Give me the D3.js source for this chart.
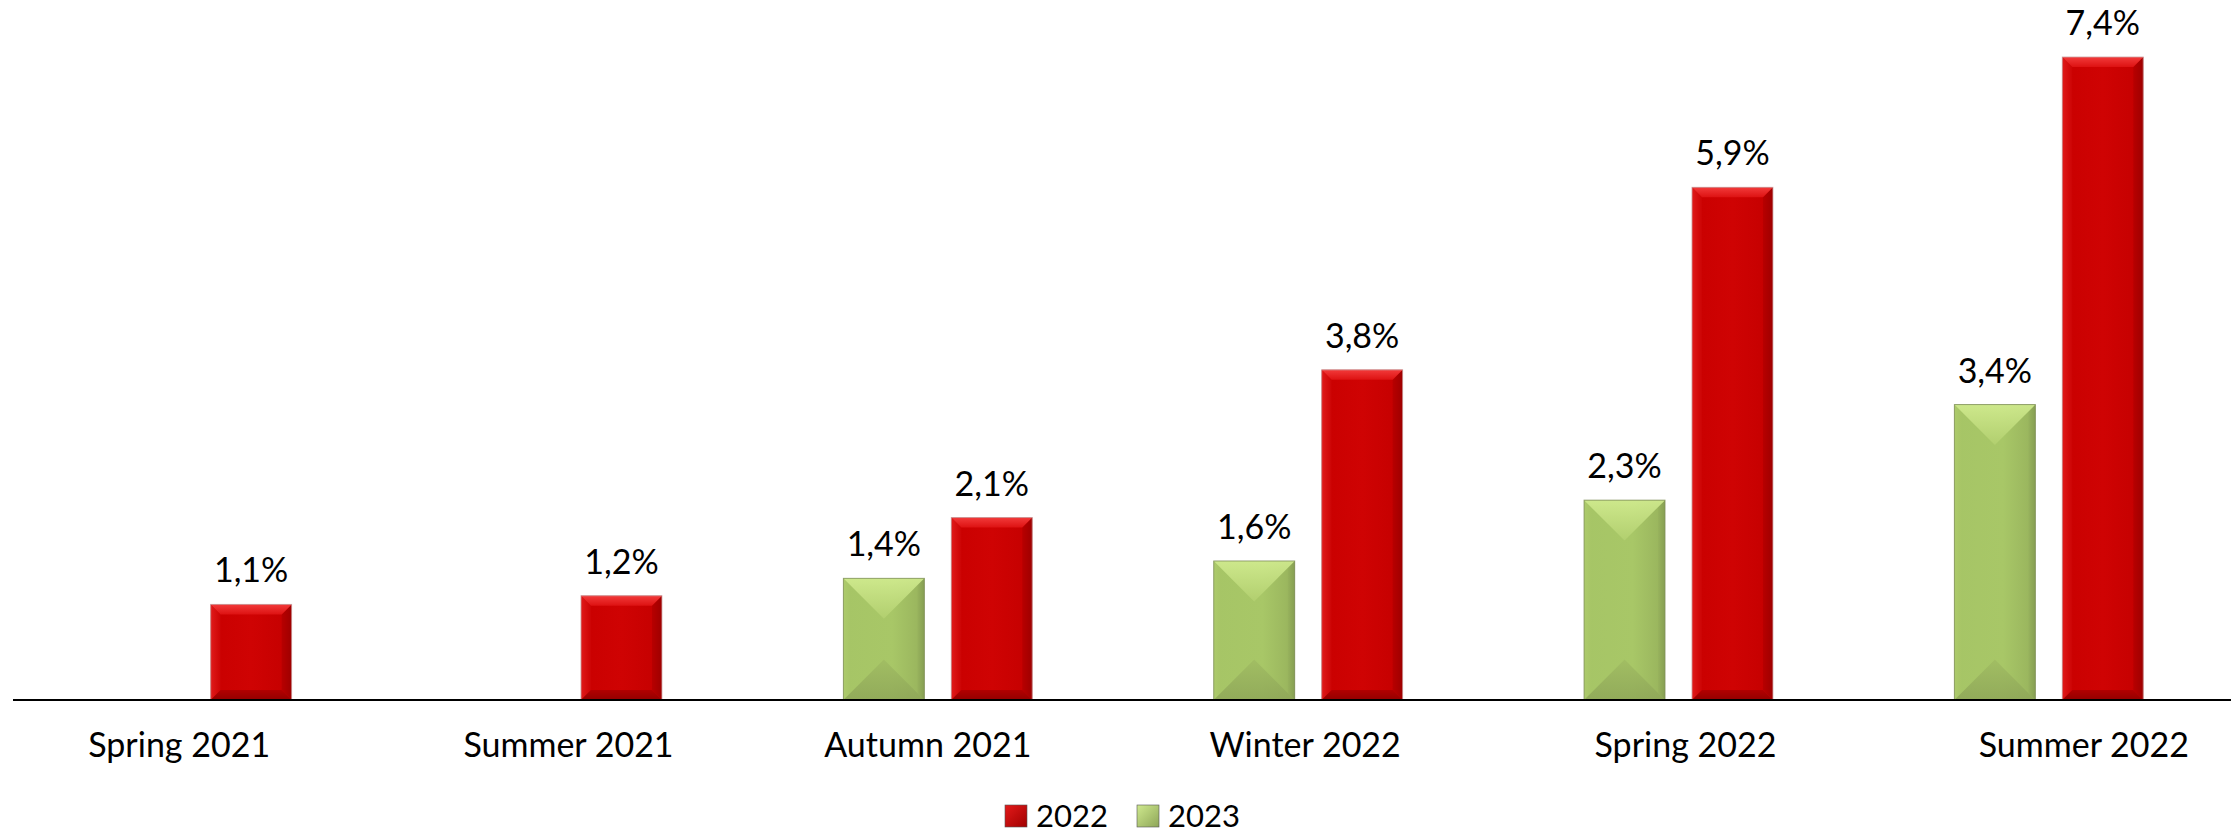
<!DOCTYPE html>
<html>
<head>
<meta charset="utf-8">
<script src="https://cdn.jsdelivr.net/npm/d3@7"></script>
<style>
  html, body { margin: 0; padding: 0; background: #ffffff; }
  svg { display: block; }
  text { font-family: Lato, "Open Sans", sans-serif; fill: #000; }
</style>
</head>
<body>
<svg id="chart" width="2239" height="836"></svg>
<script>
// ---- data ----
const categories = ["Spring 2021", "Summer 2021", "Autumn 2021", "Winter 2022", "Spring 2022", "Summer 2022"];
const seriesNames = ["2023", "2022"];          // drawing order within each group (left, right)
const values2023 = [null, null, 1.4, 1.6, 2.3, 3.4];
const values2022 = [1.1, 1.2, 2.1, 3.8, 5.9, 7.4];
const legendOrder = ["2022", "2023"];

// ---- layout / style ----
const W = 2239, H = 836;
const axisY = 700, topY = 57;
const labelNudge = [-18, 1, -10, -3, 7, 35];   // horizontal nudges of category labels

const svg = d3.select("#chart");
const fmt = v => d3.format(".1f")(v).replace(".", ",") + "%";

const rows = categories.map((c, i) => ({ cat: c, i, "2023": values2023[i], "2022": values2022[i] }));

const x0 = d3.scaleBand().domain(categories).range([12, 2234]).paddingInner(0).paddingOuter(0);
const bw = x0.bandwidth();
const x1 = d3.scaleBand().domain(seriesNames).range([bw * 0.245, bw * 0.755]).paddingInner(0.25).paddingOuter(0);
const y = d3.scaleLinear().domain([0, d3.max(values2022)]).range([axisY, topY]);

// gradients
const defs = svg.append("defs");
function lin(id, x1_, y1_, x2_, y2_, stops) {
  const g = defs.append("linearGradient").attr("id", id)
    .attr("x1", x1_).attr("y1", y1_).attr("x2", x2_).attr("y2", y2_);
  stops.forEach(s => g.append("stop").attr("offset", s[0]).attr("stop-color", s[1]));
}
// red
lin("rMain", 0, 0, 1, 0, [[0, "#c90000"], [0.5, "#cf0303"], [1, "#c40000"]]);
lin("rTop", 0, 0, 0, 1, [[0, "#f23a3a"], [1, "#dd1212"]]);
lin("rBot", 0, 0, 0, 1, [[0, "#b20000"], [1, "#930000"]]);
lin("rLeft", 0, 0, 1, 0, [[0, "#e01a1a"], [1, "#cc0404"]]);
lin("rRight", 0, 0, 1, 0, [[0, "#b80000"], [1, "#9e0000"]]);
// green
lin("gMain", 0, 0, 1, 0, [[0, "#a6c566"], [0.6, "#a8c767"], [1, "#97b25c"]]);
lin("gTop", 0, 0, 0, 1, [[0, "#d4ee92"], [1, "#b3d070"]]);
lin("gBot", 0, 0, 0, 1, [[0, "#a0bc62"], [1, "#8ea658"]]);
lin("gLeft", 0, 0, 1, 0, [[0, "#b0cd6d"], [1, "#a7c566"]]);
lin("gRight", 0, 0, 1, 0, [[0, "#98b35d"], [1, "#869f52"]]);
lin("lgR", 0, 0, 1, 1, [[0, "#e41a1a"], [1, "#a00000"]]);
lin("lgG", 0, 0, 1, 1, [[0, "#cfe98e"], [1, "#8ea658"]]);

const style = {
  "2022": { main: "url(#rMain)", top: "url(#rTop)", bot: "url(#rBot)", left: "url(#rLeft)", right: "url(#rRight)", stroke: "#c9a0a0", depth: () => 10 },
  "2023": { main: "url(#gMain)", top: "url(#gTop)", bot: "url(#gBot)", left: "url(#gLeft)", right: "url(#gRight)", stroke: "#7f8f5a", depth: w => w / 2 }
};

const groups = svg.append("g").selectAll("g.grp").data(rows).join("g")
  .attr("class", "grp")
  .attr("transform", d => `translate(${x0(d.cat)},0)`);

const bars = groups.selectAll("g.bar")
  .data(d => seriesNames.filter(s => d[s] != null).map(s => ({ key: s, value: d[s] })))
  .join("g").attr("class", "bar");

bars.each(function(d) {
  const g = d3.select(this);
  const st = style[d.key];
  const xa = x1(d.key), xb = xa + x1.bandwidth();
  const ya = y(d.value), yb = y(0);
  const w = xb - xa, h = yb - ya;
  const dp = Math.min(st.depth(w), h / 2);
  const P = pts => pts.map(p => p.join(",")).join(" ");
  g.append("rect").attr("x", xa).attr("y", ya).attr("width", w).attr("height", h).attr("fill", st.main);
  if (d.key === "2022") {
    g.append("polygon").attr("points", P([[xa, ya], [xa + dp, ya + dp], [xa + dp, yb - dp], [xa, yb]])).attr("fill", st.left);
    g.append("polygon").attr("points", P([[xb, ya], [xb - dp, ya + dp], [xb - dp, yb - dp], [xb, yb]])).attr("fill", st.right);
    g.append("polygon").attr("points", P([[xa, ya], [xb, ya], [xb - dp, ya + dp], [xa + dp, ya + dp]])).attr("fill", st.top);
    g.append("polygon").attr("points", P([[xa, yb], [xb, yb], [xb - dp, yb - dp], [xa + dp, yb - dp]])).attr("fill", st.bot);
  } else {
    const s = 7; // narrow side bevel
    g.append("polygon").attr("points", P([[xa, ya], [xa + s, ya + s], [xa + s, yb - s], [xa, yb]])).attr("fill", st.left).attr("opacity", 0.7);
    g.append("polygon").attr("points", P([[xb, ya], [xb - s, ya + s], [xb - s, yb - s], [xb, yb]])).attr("fill", st.right);
    g.append("polygon").attr("points", P([[xa, ya], [xb, ya], [(xa + xb) / 2, ya + dp]])).attr("fill", st.top).attr("opacity", 0.85);
    g.append("polygon").attr("points", P([[xa, yb], [xb, yb], [(xa + xb) / 2, yb - dp]])).attr("fill", st.bot).attr("opacity", 0.85);
  }
  g.append("rect").attr("x", xa).attr("y", ya).attr("width", w).attr("height", h)
    .attr("fill", "none").attr("stroke", st.stroke).attr("stroke-width", 1).attr("stroke-opacity", 0.8);
  g.append("text")
    .attr("x", (xa + xb) / 2).attr("y", ya - 22)
    .attr("text-anchor", "middle")
    .style("font-size", "34px")
    .text(fmt(d.value));
});

// axis
const xAxis = d3.axisBottom(x0).tickSize(0).tickPadding(0);
const ax = svg.append("g").attr("transform", `translate(0,${axisY})`).call(xAxis);
ax.select(".domain").attr("stroke", "#000").attr("stroke-width", 2).attr("d", `M${x0.range()[0] + 1},0H${x0.range()[1] - 3}`);
ax.selectAll(".tick text")
  .attr("y", 57).attr("dy", 0)
  .attr("dx", (d, i) => labelNudge[i])
  .style("font-size", "34px").style("font-family", "Lato, 'Open Sans', sans-serif").attr("fill", "#000");

// legend
const legend = svg.append("g").attr("transform", "translate(1005,805)");
const lgX = d3.scalePoint().domain(legendOrder).range([0, 132]);
const lgFill = { "2022": "url(#lgR)", "2023": "url(#lgG)" };
const li = legend.selectAll("g").data(legendOrder).join("g").attr("transform", d => `translate(${lgX(d)},0)`);
li.append("rect").attr("width", 22).attr("height", 22).attr("fill", d => lgFill[d]).attr("stroke", "#555").attr("stroke-width", 0.6);
li.append("text").attr("x", 31).attr("y", 22).style("font-size", "31px").text(d => d);
</script>
</body>
</html>
